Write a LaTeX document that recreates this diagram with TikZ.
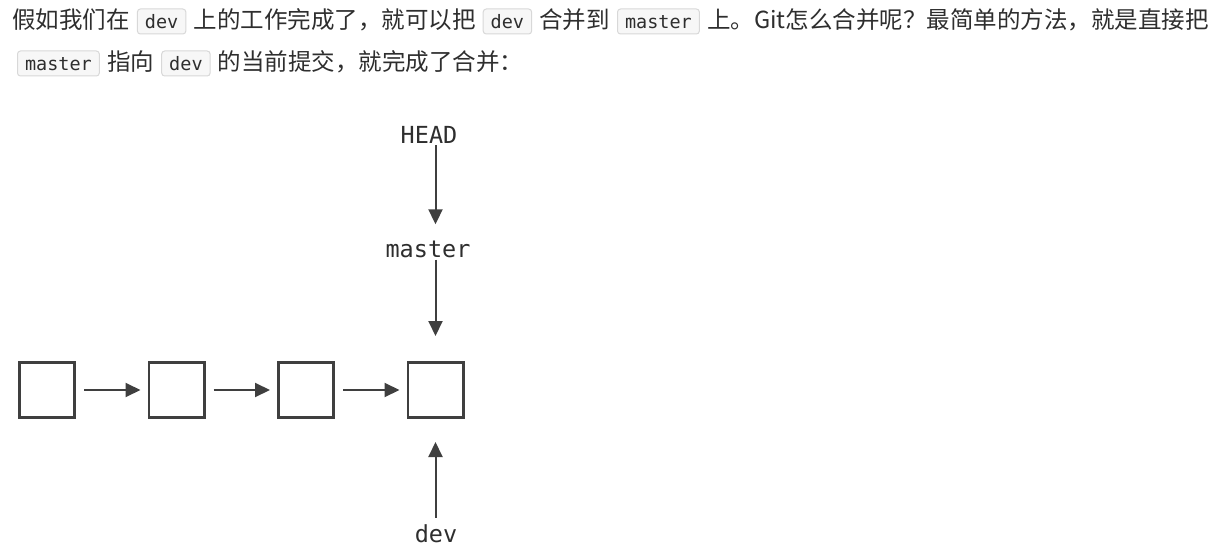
\documentclass[tikz,border=0pt]{standalone}
\usepackage{fontspec}
\usepackage{tikz}
\usetikzlibrary{positioning,arrows.meta}
\newfontfamily\cjk{Noto Sans CJK SC}
\newfontfamily\mono{DejaVu Sans Mono}
\definecolor{ink}{HTML}{2E2E2E}
\definecolor{line}{HTML}{3F3F3F}
\definecolor{codebg}{HTML}{F7F7F7}
\definecolor{codeframe}{HTML}{D8D8D8}

\begin{document}
\begin{tikzpicture}
  [x=1pt,y=-1pt,
   txt/.style={inner sep=0pt,text=ink,font=\cjk\fontsize{23.5}{28}\selectfont},
   code/.style={draw=codeframe,fill=codebg,rounded corners=3pt,line width=1pt,text=ink,
     font=\mono\fontsize{18.5}{20}\selectfont,inner xsep=7.5pt,inner ysep=3pt,
     text height=17pt,text depth=2pt},
   commit/.style={draw=line,line width=2.7pt,minimum size=55.3pt,inner sep=0pt},
   ref/.style={inner sep=0pt,text=ink,font=\mono\fontsize{23.5}{28}\selectfont},
   link/.style={draw=line,line width=2pt,-{Triangle[length=15pt,width=14pt]}}]

  \useasboundingbox (0,0) rectangle (1218,559);

  % text above the picture
  \node[txt,anchor=base west] (t1) at (12,29) {假如我们在};
  \node[code,base right=7pt of t1] (c1) {dev};
  \node[txt,base right=7pt of c1] (t2) {上的工作完成了，就可以把};
  \node[code,base right=7pt of t2] (c2) {dev};
  \node[txt,base right=7pt of c2] (t3) {合并到};
  \node[code,base right=7pt of t3] (c3) {master};
  \node[txt,base right=7pt of c3] (t4) {上。Git怎么合并呢？最简单的方法，就是直接把};

  \node[code,anchor=base west] (c4) at (17,71) {master};
  \node[txt,base right=7pt of c4] (t5) {指向};
  \node[code,base right=7pt of t5] (c5) {dev};
  \node[txt,base right=7pt of c5] (t6) {的当前提交，就完成了合并：};

  % commits
  \node[commit] (n1) at (47,390) {};
  \node[commit] (n2) at (176.5,390) {};
  \node[commit] (n3) at (306,390) {};
  \node[commit] (n4) at (435.5,390) {};

  \draw[link,shorten <=8pt,shorten >=7pt] (n1) -- (n2);
  \draw[link,shorten <=8pt,shorten >=7pt] (n2) -- (n3);
  \draw[link,shorten <=8pt,shorten >=7pt] (n3) -- (n4);

  % pointers
  \node[ref,anchor=base] (head) at (429,143) {HEAD};
  \node[ref,anchor=base] (master) at (428,257) {master};
  \node[ref,anchor=base] (dev) at (436,542) {dev};

  \draw[link,shorten <=2pt,shorten >=16pt] (head.south -| n4) -- (master.north -| n4);
  \draw[link,shorten <=2pt,shorten >=25pt] (master.south -| n4) -- (n4.north);
  \draw[link,shorten <=6pt,shorten >=23pt] (dev.north -| n4) -- (n4.south);

\end{tikzpicture}
\end{document}
